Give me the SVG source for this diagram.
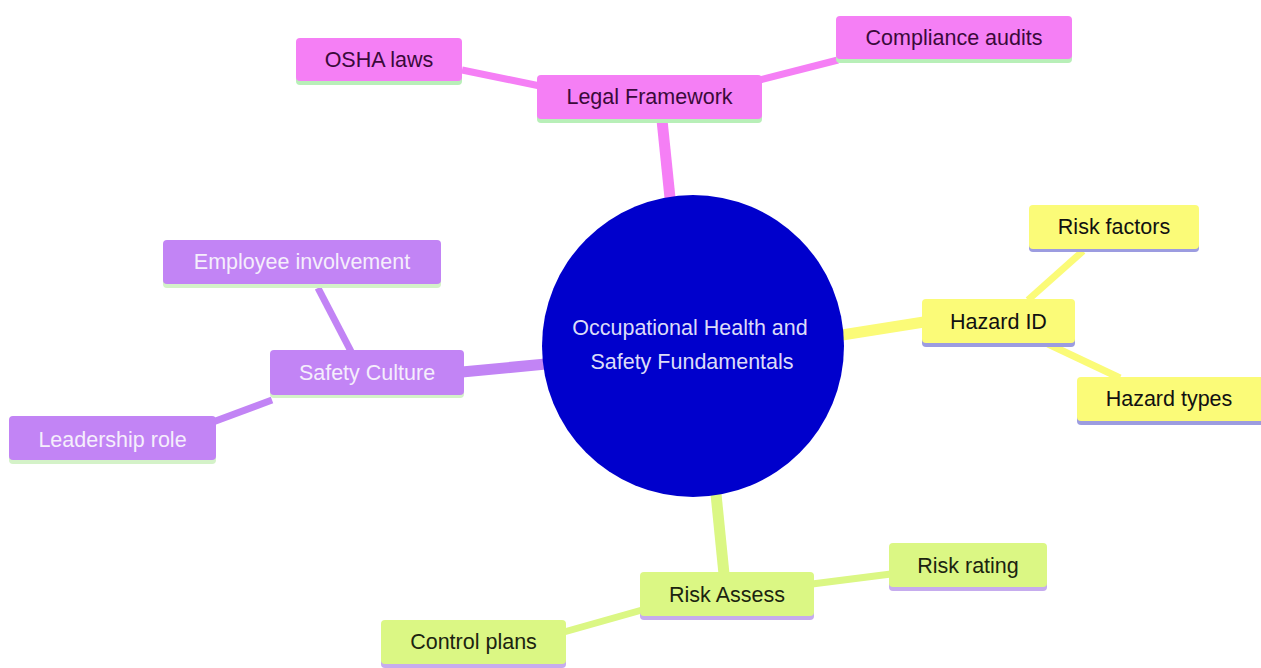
<svg xmlns="http://www.w3.org/2000/svg" width="1261" height="668" viewBox="0 0 1261 668">
<style>
text{font-family:"Liberation Sans",Arial,sans-serif;font-size:21.5px;text-anchor:middle;dominant-baseline:central}
.pink rect.b{fill:#f57ff5}.pink rect.u{fill:#b8efb8}.pink text{fill:#3a0a3a}
.yel rect.b{fill:#fbfb78}.yel rect.u{fill:#9c9ce0}.yel text{fill:#111}
.pur rect.b{fill:#c284f5}.pur rect.u{fill:#d4f2c8}.pur text{fill:#f5eefc}
.grn rect.b{fill:#dbf784}.grn rect.u{fill:#c6acee}.grn text{fill:#1b2410}
.c line{stroke-linecap:butt}
</style>
<rect width="1261" height="668" fill="#ffffff"/>
<g id="connectors" class="c">
<line x1="662" y1="120" x2="670" y2="198" stroke="#f57ff5" stroke-width="11"/>
<line x1="462" y1="70" x2="540" y2="86" stroke="#f57ff5" stroke-width="7"/>
<line x1="760" y1="80" x2="838" y2="60" stroke="#f57ff5" stroke-width="7"/>
<line x1="842" y1="335" x2="924" y2="322" stroke="#fbfb78" stroke-width="11"/>
<line x1="1083" y1="251" x2="1028" y2="300" stroke="#fbfb78" stroke-width="7"/>
<line x1="1048" y1="344" x2="1120" y2="378" stroke="#fbfb78" stroke-width="7"/>
<line x1="462" y1="372" x2="546" y2="364" stroke="#c284f5" stroke-width="11"/>
<line x1="318" y1="288" x2="356" y2="361" stroke="#c284f5" stroke-width="7"/>
<line x1="272" y1="400" x2="186" y2="432" stroke="#c284f5" stroke-width="7"/>
<line x1="716" y1="494" x2="724" y2="574" stroke="#dbf784" stroke-width="11"/>
<line x1="812" y1="584" x2="891" y2="574" stroke="#dbf784" stroke-width="7"/>
<line x1="564" y1="632" x2="642" y2="610" stroke="#dbf784" stroke-width="7"/>
</g>
<g id="root">
<circle cx="693" cy="346" r="151" fill="#0000cc"/>
<text x="690" y="328" fill="#dcdcf8" font-size="21">Occupational Health and</text>
<text x="692" y="362" fill="#dcdcf8" font-size="21">Safety Fundamentals</text>
</g>
<g id="legal" class="pink"><rect class="u" x="537" y="78" width="225" height="45" rx="4"/><rect class="b" x="537" y="75" width="225" height="44" rx="4"/><text x="649.5" y="97">Legal Framework</text></g>
<g id="osha" class="pink"><rect class="u" x="296" y="41" width="166" height="44" rx="4"/><rect class="b" x="296" y="38" width="166" height="43" rx="4"/><text x="379" y="60">OSHA laws</text></g>
<g id="compliance" class="pink"><rect class="u" x="836" y="19" width="236" height="44" rx="4"/><rect class="b" x="836" y="16" width="236" height="43" rx="4"/><text x="954" y="38">Compliance audits</text></g>
<g id="hazardid" class="yel"><rect class="u" x="922" y="302" width="153" height="45" rx="4"/><rect class="b" x="922" y="299" width="153" height="44" rx="4"/><text x="998.5" y="322">Hazard ID</text></g>
<g id="riskfactors" class="yel"><rect class="u" x="1029" y="208" width="170" height="44" rx="4"/><rect class="b" x="1029" y="205" width="170" height="44" rx="4"/><text x="1114" y="227">Risk factors</text></g>
<g id="hazardtypes" class="yel"><rect class="u" x="1077" y="380" width="190" height="45" rx="4"/><rect class="b" x="1077" y="377" width="190" height="44" rx="4"/><text x="1169" y="399">Hazard types</text></g>
<g id="safety" class="pur"><rect class="u" x="270" y="353" width="194" height="45" rx="4"/><rect class="b" x="270" y="350" width="194" height="45" rx="4"/><text x="367" y="373">Safety Culture</text></g>
<g id="employee" class="pur"><rect class="u" x="163" y="243" width="278" height="45" rx="4"/><rect class="b" x="163" y="240" width="278" height="44" rx="4"/><text x="302" y="262">Employee involvement</text></g>
<g id="leadership" class="pur"><rect class="u" x="9" y="419" width="207" height="45" rx="4"/><rect class="b" x="9" y="416" width="207" height="44" rx="4"/><text x="112.5" y="440">Leadership role</text></g>
<g id="riskassess" class="grn"><rect class="u" x="640" y="575" width="174" height="45" rx="4"/><rect class="b" x="640" y="572" width="174" height="44" rx="4"/><text x="727" y="595">Risk Assess</text></g>
<g id="riskrating" class="grn"><rect class="u" x="889" y="546" width="158" height="45" rx="4"/><rect class="b" x="889" y="543" width="158" height="44" rx="4"/><text x="968" y="566">Risk rating</text></g>
<g id="controlplans" class="grn"><rect class="u" x="381" y="623" width="185" height="45" rx="4"/><rect class="b" x="381" y="620" width="185" height="44" rx="4"/><text x="473.5" y="642">Control plans</text></g>
</svg>
